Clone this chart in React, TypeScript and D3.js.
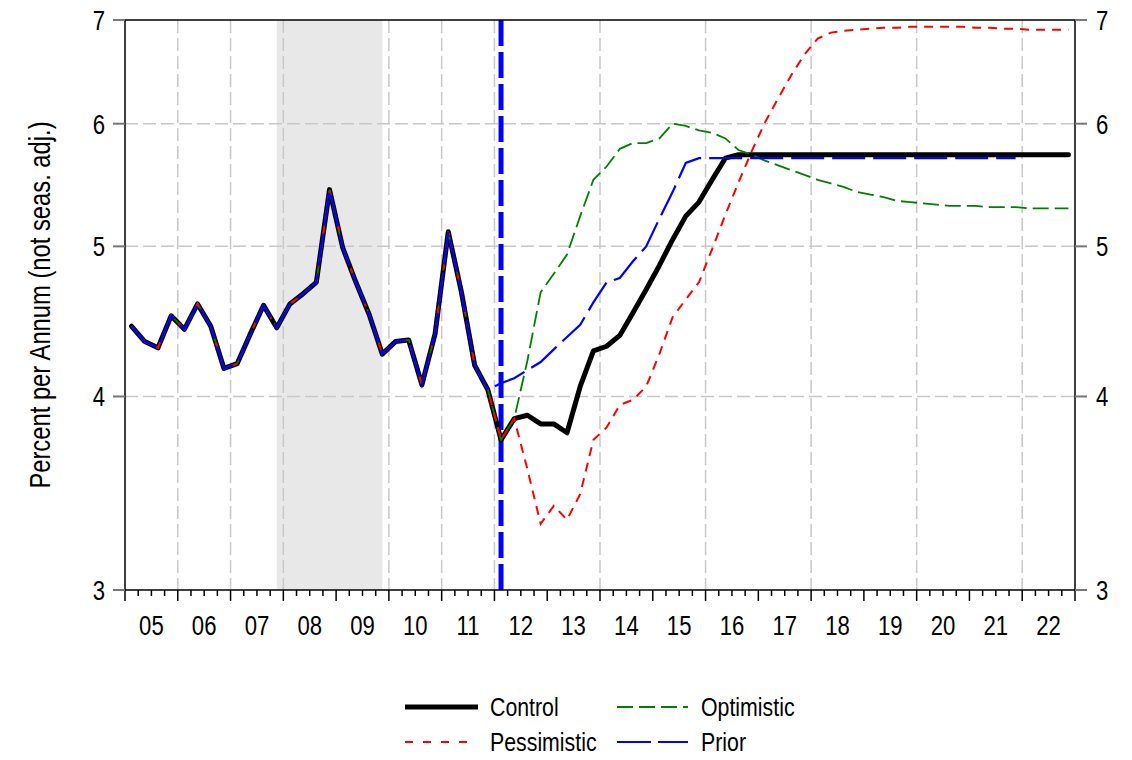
import * as d3 from "d3";

// quarterly history, 2005Q1 .. 2012Q1 (shared by all scenarios)
const history = [
  4.44, 4.34, 4.3, 4.51, 4.42, 4.59, 4.44, 4.17, 4.2, 4.39, 4.58, 4.43, 4.59,
  4.66, 4.74, 5.44, 4.99, 4.74, 4.52, 4.26, 4.34, 4.35, 4.07, 4.39, 5.11, 4.67,
  4.19, 4.04, 3.75,
];

// forecasts 2012Q2 .. 2022Q4
const controlFcst = [
  3.87, 3.89, 3.84, 3.84, 3.79, 4.06, 4.28, 4.31, 4.38, 4.53, 4.69, 4.86, 5.05,
  5.23, 5.34, 5.52, 5.7, 5.73, 5.73, 5.73, 5.73, 5.73, 5.73, 5.73, 5.73, 5.73,
  5.73, 5.73, 5.73, 5.73, 5.73, 5.73, 5.73, 5.73, 5.73, 5.73, 5.73, 5.73, 5.73,
  5.73, 5.73, 5.73, 5.73,
];
const optimisticFcst = [
  3.87, 4.22, 4.67, 4.8, 4.94, 5.23, 5.52, 5.63, 5.78, 5.83, 5.83, 5.87, 6.0,
  5.98, 5.94, 5.92, 5.87, 5.77, 5.73, 5.68, 5.64, 5.6, 5.56, 5.52, 5.49, 5.46,
  5.42, 5.4, 5.38, 5.35, 5.34, 5.33, 5.32, 5.31, 5.31, 5.31, 5.3, 5.3, 5.3,
  5.29, 5.29, 5.29, 5.29,
];
const pessimisticFcst = [
  3.87, 3.59, 3.31, 3.4, 3.33, 3.46, 3.75, 3.82, 3.95, 3.98, 4.06, 4.26, 4.5,
  4.62, 4.74, 4.98, 5.24, 5.5, 5.76, 6.01, 6.23, 6.45, 6.65, 6.81, 6.87, 6.89,
  6.9, 6.91, 6.92, 6.92, 6.93, 6.93, 6.93, 6.93, 6.93, 6.92, 6.92, 6.91, 6.91,
  6.9, 6.9, 6.9, 6.9,
];
// prior forecast 2012Q1 .. 2021Q4
const priorFcst = [
  4.08, 4.11, 4.16, 4.21, 4.29, 4.37, 4.45, 4.6, 4.74, 4.77, 4.89, 5.0, 5.21,
  5.42, 5.66, 5.7, 5.7, 5.7, 5.7, 5.7, 5.7, 5.7, 5.7, 5.7, 5.7, 5.7, 5.7, 5.7,
  5.7, 5.7, 5.7, 5.7, 5.7, 5.7, 5.7, 5.7, 5.7, 5.7, 5.7, 5.7,
];

const years = d3.range(2005, 2023);
const gridYears = [2006, 2007, 2008, 2010, 2011, 2012, 2014, 2016, 2018, 2020, 2022];
const yTicks = [3, 4, 5, 6, 7];
const yGrid = [4, 5, 6];
const recession = [2007.875, 2009.875]; // 2007Q4 .. 2009Q4 (mid quarter)
const jumpOff = 2012.125; // 2012Q1

const FONT = "'Liberation Sans', Arial, sans-serif";
const NARROW = 0.82; // squeeze to look like a narrow face

// text squeezed horizontally along its reading direction
const NText = ({
  x,
  y,
  size,
  anchor = "start",
  rotate = false,
  children,
}: {
  x: number;
  y: number;
  size: number;
  anchor?: "start" | "middle" | "end";
  rotate?: boolean;
  children: any;
}) => (
  <text
    transform={`translate(${x},${y})${rotate ? " rotate(-90)" : ""} scale(${NARROW},1)`}
    textAnchor={anchor}
    fontSize={size}
  >
    {children}
  </text>
);

const App = () => {
  const width = 1132;
  const height = 760;
  const margin = { top: 20, right: 57, bottom: 170, left: 125 };
  const x0 = margin.left;
  const x1 = width - margin.right;
  const y0 = margin.top;
  const y1 = height - margin.bottom;

  const xScale = d3.scaleLinear().domain([2005, 2023]).range([x0, x1]);
  const yScale = d3.scaleLog().domain([3, 7]).range([y1, y0]);

  const qx = (i: number) => xScale(2005 + (i + 0.5) / 4);
  const line = d3
    .line<[number, number]>()
    .x((d) => qx(d[0]))
    .y((d) => yScale(d[1]));

  const build = (hist: number[], fc: number[]): [number, number][] =>
    [...hist, ...fc].map((v, i) => [i, v]);

  const control = build(history, controlFcst);
  const optimistic = build(history, optimisticFcst);
  const pessimistic = build(history, pessimisticFcst);
  const prior = build(history.slice(0, history.length - 1), priorFcst);

  const quarters = d3.range(0, 72);

  return (
    <svg
      width={width}
      height={height}
      style={{ position: "absolute", left: 0, top: 0, background: "#fff" }}
      fontFamily={FONT}
    >
      {/* recession shading */}
      <rect
        x={xScale(recession[0])}
        y={y0}
        width={xScale(recession[1]) - xScale(recession[0])}
        height={y1 - y0}
        fill="#e8e8e8"
      />
      {/* grid */}
      {gridYears.map((yr) => (
        <line
          key={"gx" + yr}
          x1={xScale(yr)}
          x2={xScale(yr)}
          y1={y0}
          y2={y1}
          stroke="#c8c8c8"
          strokeWidth={1.5}
          strokeDasharray="13,5"
        />
      ))}
      {yGrid.map((v) => (
        <line
          key={"gy" + v}
          x1={x0}
          x2={x1}
          y1={yScale(v)}
          y2={yScale(v)}
          stroke="#c8c8c8"
          strokeWidth={1.5}
          strokeDasharray="13,5"
        />
      ))}
      {/* jump-off line */}
      <line
        x1={xScale(jumpOff)}
        x2={xScale(jumpOff)}
        y1={y0}
        y2={y1}
        stroke="#0000ff"
        strokeWidth={5}
        strokeDasharray="26,6"
      />
      {/* series */}
      <path
        d={line(control)!}
        fill="none"
        stroke="#000"
        strokeWidth={5}
        strokeLinejoin="round"
        strokeLinecap="round"
      />
      <path
        d={line(optimistic)!}
        fill="none"
        stroke="#008000"
        strokeWidth={1.8}
        strokeDasharray="16,6"
      />
      <path
        d={line(pessimistic)!}
        fill="none"
        stroke="#ff0000"
        strokeWidth={2}
        strokeDasharray="9,7"
      />
      <path
        d={line(prior)!}
        fill="none"
        stroke="#0000ff"
        strokeWidth={2.2}
        strokeDasharray="33,8"
      />
      {/* frame */}
      <line x1={x0} x2={x1} y1={y0} y2={y0} stroke="#000" strokeWidth={1.5} />
      <line x1={x0} x2={x0} y1={y0} y2={y1} stroke="#000" strokeWidth={1.5} />
      <line x1={x1} x2={x1} y1={y0} y2={y1} stroke="#000" strokeWidth={1.5} />
      <line x1={x0} x2={x1} y1={y1} y2={y1} stroke="#000" strokeWidth={1.5} />
      {/* x ticks */}
      {quarters.map((q) => {
        const xx = xScale(2005 + q / 4);
        const major = q % 4 === 0;
        return (
          <line
            key={"xt" + q}
            x1={xx}
            x2={xx}
            y1={y1}
            y2={y1 + (major ? 11 : 6)}
            stroke="#000"
            strokeWidth={1.5}
          />
        );
      })}
      <line x1={x1} x2={x1} y1={y1} y2={y1 + 11} stroke="#000" strokeWidth={1.5} />
      {years.map((yr) => (
        <NText key={"xl" + yr} x={xScale(yr + 0.5)} y={y1 + 45} anchor="middle" size={27}>
          {String(yr % 100).padStart(2, "0")}
        </NText>
      ))}
      {/* y ticks */}
      {yTicks.map((v) => (
        <g key={"yt" + v}>
          <line x1={x0 - 12} x2={x0} y1={yScale(v)} y2={yScale(v)} stroke="#777" strokeWidth={2} />
          <line x1={x1} x2={x1 + 12} y1={yScale(v)} y2={yScale(v)} stroke="#777" strokeWidth={2} />
          <NText x={x0 - 20} y={yScale(v) + 10} anchor="end" size={27}>
            {v}
          </NText>
          <NText x={x1 + 21} y={yScale(v) + 10} anchor="start" size={27}>
            {v}
          </NText>
        </g>
      ))}
      <NText x={50} y={(y0 + y1) / 2} anchor="middle" size={29} rotate>
        Percent per Annum (not seas. adj.)
      </NText>
      {/* legend */}
      <line x1={405} x2={478} y1={707} y2={707} stroke="#000" strokeWidth={5} />
      <NText x={490} y={716} size={26}>Control</NText>
      <line x1={617} x2={688} y1={707} y2={707} stroke="#008000" strokeWidth={1.8} strokeDasharray="16,6" />
      <NText x={701} y={716} size={26}>Optimistic</NText>
      <line x1={405} x2={468} y1={742} y2={742} stroke="#ff0000" strokeWidth={2} strokeDasharray="8,10" />
      <NText x={490} y={751} size={26}>Pessimistic</NText>
      <line x1={617} x2={688} y1={742} y2={742} stroke="#0000ff" strokeWidth={2.2} strokeDasharray="34,7" />
      <NText x={701} y={751} size={26}>Prior</NText>
    </svg>
  );
};

export default App;
